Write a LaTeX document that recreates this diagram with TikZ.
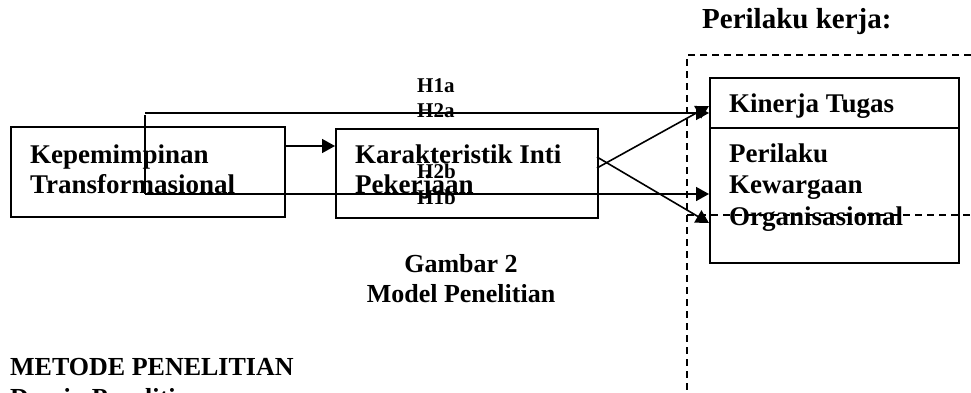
\documentclass[tikz,border=0pt]{standalone}
\usepackage{fontspec}
\setmainfont{Liberation Serif}
\usetikzlibrary{arrows.meta}
\tikzset{
  box/.style={draw,line width=1.7pt,inner sep=0pt,anchor=north west},
  txt/.style={anchor=base west,inner sep=0pt,font=\fontsize{27}{31}\selectfont\bfseries},
  lbl/.style={anchor=base west,inner sep=0pt,font=\fontsize{21}{24}\selectfont\bfseries},
  conn/.style={line width=1.6pt},
  arr/.style={line width=1.6pt,-{Triangle[length=13pt,width=14pt]}},
  dsh/.style={line width=1.5pt,dash pattern=on 7pt off 5pt}
}
\begin{document}
\begin{tikzpicture}[x=1pt,y=-1pt]
\useasboundingbox (0,0) rectangle (971,392);
\clip (0,0) rectangle (971,392);
% boxes
\node[box,minimum width=274pt,minimum height=90pt] (A) at (10,126) {};
\node[box,minimum width=262pt,minimum height=89pt] (B) at (335,128) {};
\node[box,minimum width=249pt,minimum height=50pt] (KT) at (709,77) {};
\node[box,minimum width=249pt,minimum height=135pt] (OCB) at (709,127) {};
% texts
\node[txt] (a1) at (30,163) {Kepemimpinan};
\node[txt] (a2) at (30,193) {Transformasional};
\node[txt] (b1) at (355,163) {Karakteristik Inti};
\node[txt] (b2) at (355,193) {Pekerjaan};
\node[txt] (k1) at (729,112) {Kinerja Tugas};
\node[txt] (o1) at (729,162) {Perilaku};
\node[txt] (o2) at (729,193) {Kewargaan};
\node[txt] (o3) at (729,225) {Organisasional};
\node[txt,font=\fontsize{29}{33}\selectfont\bfseries] (pk) at (702,28) {Perilaku kerja:};
\node[txt,anchor=base,font=\fontsize{26}{30}\selectfont\bfseries] (g1) at (461,272) {Gambar 2};
\node[txt,anchor=base,font=\fontsize{26}{30}\selectfont\bfseries] (g2) at (461,302) {Model Penelitian};
\node[txt,font=\fontsize{26}{30}\selectfont\bfseries] (m1) at (10,375) {METODE PENELITIAN};
\node[txt,font=\fontsize{26}{30}\selectfont\bfseries] (m2) at (10,406) {Desain Penelitian};
% labels
\node[lbl] (h1a) at (417,92) {H1a};
\node[lbl] (h2a) at (417,117) {H2a};
\node[lbl] (h2b) at (417,178) {H2b};
\node[lbl] (h1b) at (417,204) {H1b};
% dashed frame
\coordinate (d0) at (687,55);
\coordinate (d1) at (971,55);
\coordinate (d2) at (687,392);
\coordinate (d3) at (687,215);
\coordinate (d4) at (971,215);
\draw[dsh] (d1) -- (d0) -- (d2);
\draw[dsh] (d3) -- (d4);
% connectors
\coordinate (s1) at (286,146);
\draw[arr] (s1) -- (B.west |- s1);
\coordinate (t1) at (145,113);
\coordinate (t2) at (145,194);
\coordinate (tv) at (145,115);
\draw[conn] (tv) -- (t2);
\draw[arr] (t1) -- (KT.west |- t1);
\draw[arr] (t2) -- (OCB.west |- t2);
\coordinate (c1) at (597,168);
\coordinate (c2) at (597,157);
\coordinate (e1) at (709,106);
\coordinate (e2) at (709,223);
\draw[arr] (c1) -- (e1);
\draw[arr] (c2) -- (e2);
\end{tikzpicture}
\end{document}
